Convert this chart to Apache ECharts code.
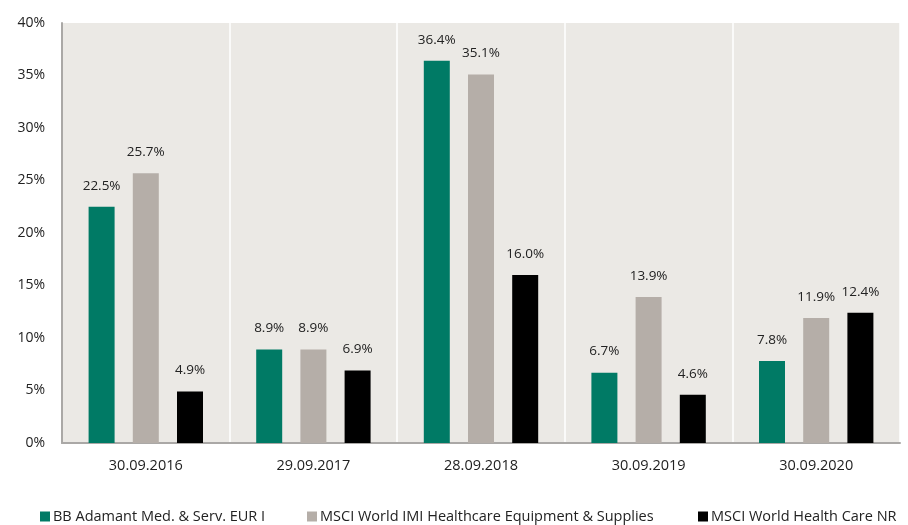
<!DOCTYPE html>
<html><head><meta charset="utf-8">
<script src="https://cdn.jsdelivr.net/npm/echarts@6/dist/echarts.min.js"></script>
<style>html,body{margin:0;padding:0;background:#fff}#c{width:908px;height:525px}</style>
</head><body><div id="c"></div>
<script>
const categories = ['30.09.2016','29.09.2017','28.09.2018','30.09.2019','30.09.2020'];
const seriesNames = ['BB Adamant Med. & Serv. EUR I','MSCI World IMI Healthcare Equipment & Supplies','MSCI World Health Care NR'];
const fundValues = [22.5, 8.9, 36.4, 6.7, 7.8];
const equipValues = [25.7, 8.9, 35.1, 13.9, 11.9];
const healthValues = [4.9, 6.9, 16.0, 4.6, 12.4];
const colors = ['#007a65','#b5aea8','#000000'];
const FONT = 'Open Sans';

const chart = echarts.init(document.getElementById('c'));
function mk(name, data, color){
  return {
    name, type:'bar', data, barWidth:26, barGap:'70%',
    itemStyle:{color},
    label:{show:true, position:'top', distance:14, color:'#222', fontFamily:FONT, fontSize:13.5,
      formatter:p=>p.value.toFixed(1)+'%'}
  };
}
const legendLefts = [35, 302, 693];
chart.setOption({
  animation:false,
  textStyle:{fontFamily:FONT},
  legend: seriesNames.map((n,i)=>({
    data:[n], left:legendLefts[i], top:504, itemWidth:10, itemHeight:10, itemGap:0,
    icon:'rect', textStyle:{fontFamily:FONT, fontSize:14.5, color:'#222', padding:[0,0,0,-2]}
  })),
  grid:{left:62, right:8, top:23, bottom:82, show:true, backgroundColor:'#ebe9e5', borderWidth:0},
  xAxis:{type:'category', data:categories,
    axisLine:{show:true, lineStyle:{color:'#aaa8a6', width:2}},
    axisTick:{show:false},
    axisLabel:{color:'#222', fontFamily:FONT, fontSize:14.5, margin:15},
    splitLine:{show:true, lineStyle:{color:'#ffffff', width:1.5}}},
  yAxis:{type:'value', min:0, max:40, interval:5,
    axisLine:{show:true, lineStyle:{color:'#aaa8a6', width:2}},
    axisTick:{show:false},
    splitLine:{show:false},
    axisLabel:{color:'#222', fontFamily:FONT, fontSize:14, margin:17, formatter:v=>v+'%'}},
  series:[mk(seriesNames[0],fundValues,colors[0]), mk(seriesNames[1],equipValues,colors[1]), mk(seriesNames[2],healthValues,colors[2])]
});
</script></body></html>
